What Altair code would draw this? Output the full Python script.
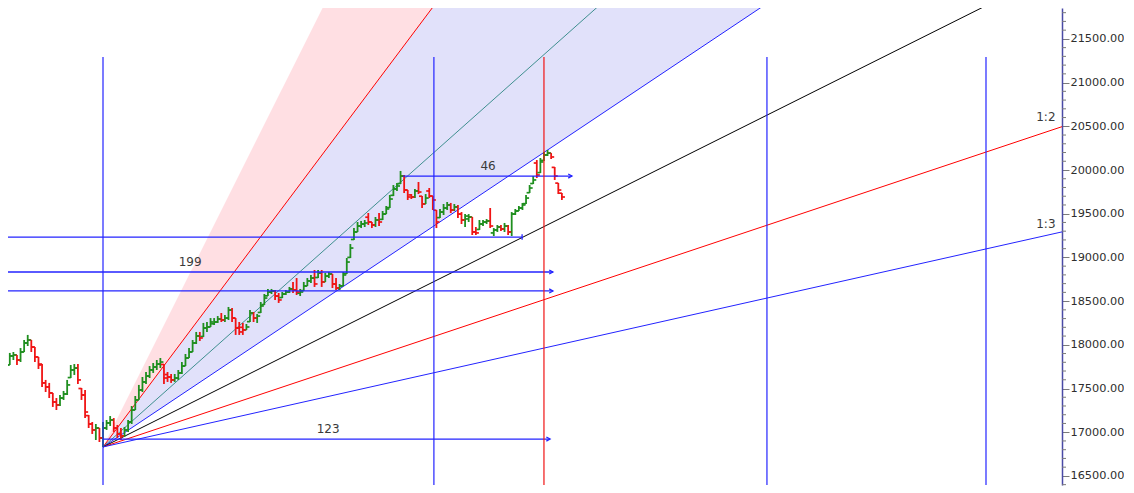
import altair as alt
import pandas as pd

# ---------------- data ----------------
bar_index = list(range(-28, 129))

opens = [
    17760, 17689, 17769, 17872, 17884, 17826, 17918, 18021, 18055, 17975,
    17861, 17780, 17564, 17518, 17449, 17346, 17312, 17391, 17437, 17625,
    17712, 17734, 17500, 17426, 17190, 17094, 17026, 17048,
    16934, 17048, 17106, 17140, 17048, 16980, 16957, 17026, 17117, 17254,
    17369, 17483, 17575, 17643, 17712, 17746, 17780, 17775, 17660, 17632,
    17598, 17620, 17678, 17757, 17849, 17918, 18021, 18101, 18095, 18192,
    18204, 18240, 18261, 18295, 18284, 18306, 18398, 18306, 18192, 18200,
    18170, 18265, 18364, 18306, 18370, 18460, 18560, 18604, 18616, 18558,
    18540, 18581, 18604, 18639, 18627, 18590, 18620, 18673, 18731, 18764,
    18770, 18822, 18719, 18787, 18810, 18696, 18650, 18673, 18815, 19000,
    19205, 19291, 19359, 19382, 19460, 19405, 19371, 19428, 19435, 19496,
    19570, 19710, 19783, 19845, 19931, 19771, 19715, 19691, 19760, 19700,
    19611, 19760, 19702, 19540, 19455, 19519, 19565, 19600, 19542, 19577,
    19496, 19428, 19440, 19462, 19291, 19320, 19382, 19405, 19417, 19280,
    19314, 19348, 19325, 19359, 19291, 19496, 19531, 19565, 19615, 19740,
    19845, 20080, 19970, 20110, 20172, 20194, 20030, 19850, 19735,
]
highs = [
    17803, 17826, 17907, 17918, 17884, 17963, 18055, 18113, 18055, 17975,
    17861, 17780, 17598, 17564, 17449, 17391, 17426, 17472, 17598, 17769,
    17780, 17780, 17506, 17483, 17197, 17117, 17094, 17048,
    17117, 17140, 17185, 17162, 17083, 17048, 17060, 17140, 17300, 17414,
    17541, 17632, 17689, 17757, 17792, 17826, 17849, 17780, 17689, 17666,
    17666, 17712, 17803, 17895, 17963, 18055, 18147, 18147, 18250, 18261,
    18306, 18306, 18329, 18364, 18341, 18433, 18421, 18306, 18261, 18250,
    18238, 18398, 18375, 18352, 18490, 18581, 18639, 18639, 18627, 18593,
    18604, 18627, 18662, 18719, 18764, 18639, 18719, 18764, 18799, 18856,
    18856, 18856, 18822, 18833, 18810, 18764, 18696, 18833, 18993, 19153,
    19336, 19405, 19417, 19428, 19508, 19405, 19462, 19508, 19531, 19588,
    19714, 19828, 19852, 19989, 19943, 19771, 19725, 19783, 19863, 19702,
    19725, 19794, 19702, 19542, 19554, 19611, 19634, 19623, 19611, 19600,
    19519, 19496, 19496, 19462, 19348, 19428, 19428, 19439, 19565, 19336,
    19371, 19371, 19394, 19371, 19519, 19554, 19588, 19623, 19714, 19828,
    19931, 20114, 20137, 20206, 20229, 20194, 20034, 19851, 19737,
]
lows = [
    17643, 17689, 17769, 17826, 17769, 17803, 17918, 17986, 17918, 17803,
    17723, 17518, 17460, 17391, 17289, 17254, 17300, 17369, 17426, 17620,
    17655, 17552, 17369, 17162, 17048, 16980, 16911, 16888,
    16831, 17026, 17071, 17003, 16934, 16911, 16946, 17003, 17094, 17254,
    17369, 17460, 17552, 17620, 17678, 17712, 17734, 17552, 17575, 17564,
    17575, 17598, 17666, 17757, 17849, 17918, 18009, 18044, 18090, 18147,
    18204, 18227, 18250, 18261, 18261, 18284, 18261, 18113, 18113, 18113,
    18170, 18261, 18261, 18250, 18364, 18456, 18558, 18581, 18513, 18479,
    18535, 18570, 18593, 18593, 18570, 18558, 18616, 18673, 18708, 18662,
    18764, 18662, 18719, 18764, 18650, 18627, 18627, 18673, 18810, 18993,
    19199, 19291, 19336, 19348, 19371, 19336, 19348, 19359, 19428, 19496,
    19565, 19702, 19760, 19840, 19737, 19657, 19668, 19679, 19725, 19565,
    19611, 19679, 19542, 19336, 19450, 19485, 19542, 19508, 19531, 19450,
    19382, 19348, 19405, 19256, 19256, 19314, 19359, 19382, 19336, 19245,
    19291, 19303, 19291, 19256, 19245, 19485, 19531, 19542, 19611, 19737,
    19840, 19908, 19966, 20103, 20160, 20126, 19886, 19725, 19657,
]
closes = [
    17689, 17769, 17872, 17884, 17826, 17918, 18021, 18055, 17975, 17861,
    17769, 17564, 17518, 17449, 17346, 17312, 17391, 17437, 17541, 17712,
    17734, 17598, 17426, 17231, 17094, 17026, 17048, 16934,
    17048, 17106, 17140, 17048, 16980, 16957, 17026, 17117, 17254, 17369,
    17483, 17575, 17643, 17712, 17746, 17780, 17803, 17620, 17632, 17598,
    17620, 17678, 17757, 17849, 17918, 18021, 18101, 18078, 18192, 18204,
    18261, 18261, 18295, 18284, 18306, 18398, 18306, 18192, 18147, 18170,
    18204, 18364, 18306, 18329, 18444, 18535, 18604, 18616, 18558, 18513,
    18581, 18604, 18639, 18627, 18604, 18604, 18673, 18731, 18764, 18696,
    18822, 18719, 18787, 18810, 18696, 18650, 18673, 18799, 18947, 19107,
    19291, 19359, 19382, 19394, 19405, 19371, 19428, 19405, 19496, 19554,
    19668, 19783, 19817, 19931, 19771, 19691, 19691, 19760, 19748, 19611,
    19679, 19702, 19657, 19405, 19519, 19565, 19600, 19542, 19577, 19496,
    19428, 19473, 19462, 19291, 19280, 19382, 19405, 19417, 19359, 19314,
    19348, 19325, 19359, 19291, 19496, 19531, 19565, 19600, 19679, 19794,
    19886, 19943, 20092, 20172, 20194, 20149, 19931, 19771, 19691,
]

# Gann fan from the pivot low (bar 0)
pivot_bar = 0
pivot_price = 16831
fan_slopes = [54.7, 36.5, 27.4, 20.5, 13.7, 9.2]          # price per bar
fan_colors = ["#ff0000", "#3f8f8f", "#2323ff", "#000000", "#ff0000", "#2323ff"]
pink_outer_slope = 82.0
fan_labels = ["1:2", "1:3"]
fan_label_bars = [263.0, 263.0]
fan_label_prices = [20606, 19382]

# time cycles (vertical lines)
blue_cycles = [0, 92.3, 185.2, 246.3]
red_cycles = [123]
cycle_top = 21293

# horizontal measured arrows
arrow_starts = [0, -73.5, -73.5, 83.7]
arrow_ends = [124.7, 125.5, 125.5, 130.8]
arrow_prices = [16922, 18833, 18616, 19931]
arrow_labels = ["123", "199", "", "46"]
arrow_label_bars = [62.8, 24.3, 24.3, 107.4]

# support line ending on the 1x1 line
support_start, support_end, support_price = -74, 116.9, 19233

tick_values = list(range(16500, 22000, 500))
minor_values = [v for v in range(16400, 21900, 100) if v % 500 != 0]

GREEN = "#1f8f1f"
RED = "#f01414"
BLUE = "#2323ff"
FONT = "DejaVu Sans"

W, H = 1054, 477
xs = alt.Scale(domain=[-26.5, 267.5], nice=False, zero=False)
ys = alt.Scale(domain=[16396, 21853.5], nice=False, zero=False)

# ---------------- tables ----------------
bars = pd.DataFrame({"bar": bar_index, "open": opens, "high": highs,
                     "low": lows, "close": closes})
bars["dir"] = ["up" if c >= o else "down" for o, c in zip(opens, closes)]

far = 320
fan_rows = []
for k, (s, col) in enumerate(zip(fan_slopes, fan_colors)):
    fan_rows.append({"line": k, "bar": pivot_bar, "price": pivot_price, "col": col})
    fan_rows.append({"line": k, "bar": far, "price": pivot_price + s * far, "col": col})
fans = pd.DataFrame(fan_rows)

areas = pd.DataFrame([
    {"zone": "pink", "bar": b, "upper": pivot_price + pink_outer_slope * b,
     "lower": pivot_price + fan_slopes[0] * b, "col": "#ffdfe3"} for b in (pivot_bar, far)
] + [
    {"zone": "blue", "bar": b, "upper": pivot_price + fan_slopes[0] * b,
     "lower": pivot_price + fan_slopes[2] * b, "col": "#e1e1fa"} for b in (pivot_bar, far)
])

cycles = pd.DataFrame({"bar": blue_cycles + red_cycles,
                       "col": [BLUE] * len(blue_cycles) + [RED] * len(red_cycles),
                       "top": cycle_top, "bottom": 16000})

arrows = pd.DataFrame({"start": arrow_starts, "end": arrow_ends, "price": arrow_prices,
                       "label": arrow_labels, "lbar": arrow_label_bars})
support = pd.DataFrame({"start": [support_start], "end": [support_end], "price": [support_price]})
fan_text = pd.DataFrame({"bar": fan_label_bars, "price": fan_label_prices, "label": fan_labels})
minor = pd.DataFrame({"v": minor_values})

# ---------------- layers ----------------
yaxis = alt.Axis(orient="right", values=tick_values, format=".2f", tickSize=7,
                 tickColor="#7a7a7a", domainColor="#4a4aa6", domainWidth=1.5,
                 labelFont=FONT, labelFontSize=11.3, labelColor="#2e2e2e",
                 labelPadding=1, grid=False, title=None)


def Y(field):
    return alt.Y(field, scale=ys, axis=yaxis, title=None)


def X(field):
    return alt.X(field, scale=xs, axis=None)


area_layer = alt.Chart(areas).mark_area(clip=True, opacity=1).encode(
    x=X("bar:Q"), y=Y("upper:Q"), y2="lower:Q",
    color=alt.Color("col:N", scale=None), detail="zone:N",
)

fan_layer = alt.Chart(fans).mark_line(clip=True, strokeWidth=1).encode(
    x=X("bar:Q"), y=Y("price:Q"),
    color=alt.Color("col:N", scale=None), detail="line:N",
)

dir_color = alt.Color("dir:N", scale=alt.Scale(domain=["up", "down"], range=[GREEN, RED]), legend=None)

wick = alt.Chart(bars).mark_rule(clip=True, strokeWidth=1.8).encode(
    x=X("bar:Q"), y=Y("low:Q"), y2="high:Q", color=dir_color,
)
open_tick = alt.Chart(bars).transform_calculate(xl="datum.bar - 0.85").mark_rule(
    clip=True, strokeWidth=1.7).encode(
    x=X("xl:Q"), x2="bar:Q", y=Y("open:Q"), color=dir_color,
)
close_tick = alt.Chart(bars).transform_calculate(xr="datum.bar + 0.85").mark_rule(
    clip=True, strokeWidth=1.7).encode(
    x=X("bar:Q"), x2="xr:Q", y=Y("close:Q"), color=dir_color,
)

cycle_layer = alt.Chart(cycles).mark_rule(clip=True, strokeWidth=1.2).encode(
    x=X("bar:Q"), y=Y("top:Q"), y2="bottom:Q",
    color=alt.Color("col:N", scale=None),
)

arrow_line = alt.Chart(arrows).mark_rule(clip=True, strokeWidth=1.3, color=BLUE).encode(
    x=X("start:Q"), x2="end:Q", y=Y("price:Q"),
)
arrow_head = alt.Chart(arrows).mark_point(
    shape="M-1,-0.55L0,0L-1,0.55", filled=False, color=BLUE, strokeWidth=1.3, size=55,
    opacity=1).encode(x=X("end:Q"), y=Y("price:Q"))
arrow_text = alt.Chart(arrows).mark_text(
    font=FONT, fontSize=12, color="#3a3a3a", baseline="bottom", dy=-3).encode(
    x=X("lbar:Q"), y=Y("price:Q"), text="label:N",
)

support_line = alt.Chart(support).mark_rule(clip=True, strokeWidth=1.3, color=BLUE).encode(
    x=X("start:Q"), x2="end:Q", y=Y("price:Q"),
)
support_end_tick = alt.Chart(support).mark_point(
    shape="M0,-1L0,1", filled=False, color=BLUE, strokeWidth=1.3, size=30, opacity=1).encode(
    x=X("end:Q"), y=Y("price:Q"))

fan_text_layer = alt.Chart(fan_text).mark_text(
    font=FONT, fontSize=12, color="#3a3a3a", baseline="middle", align="center").encode(
    x=X("bar:Q"), y=Y("price:Q"), text="label:N",
)

minor_ticks = alt.Chart(minor).mark_rule(color="#7a7a7a", strokeWidth=1).encode(
    x=alt.value(W), x2=alt.value(W + 4), y=Y("v:Q"),
)

chart = alt.layer(
    area_layer, fan_layer, wick, open_tick, close_tick,
    support_line, support_end_tick, arrow_line, arrow_head, arrow_text,
    cycle_layer, fan_text_layer, minor_ticks,
).properties(
    width=W, height=H, padding=0, background="white",
).configure_view(stroke=None)

chart.save("out.html", embed_options={"renderer": "svg", "actions": False})
